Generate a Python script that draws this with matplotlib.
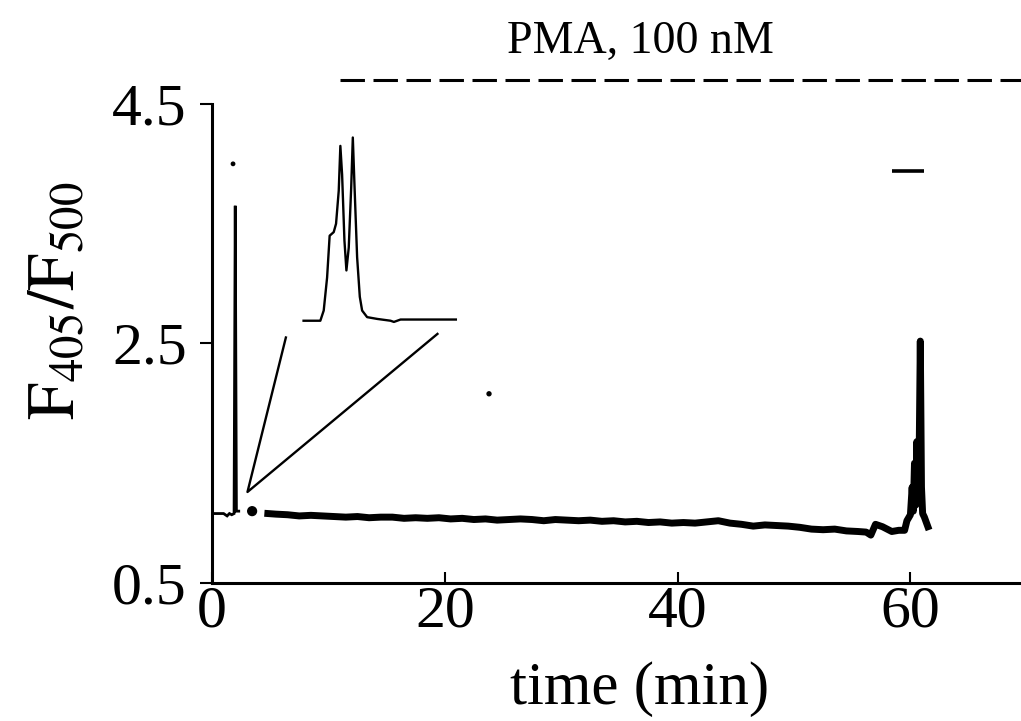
import numpy as np
import matplotlib.pyplot as plt

plt.rcParams['font.family'] = ['Liberation Serif', 'DejaVu Serif']
plt.rcParams['mathtext.fontset'] = 'stix'

# early thin trace (min, ratio)
t_early = [0.0, 0.5, 1.0, 1.3, 1.5, 1.7, 1.9, 2.0, 2.1, 2.3]
r_early = [1.08, 1.08, 1.08, 1.06, 1.08, 1.07, 1.08, 3.65, 1.10, 1.10]

# main recording (thick trace)
t_main = [4.8, 5.5, 6.5, 7.5, 8.5, 9.5, 10.5, 11.5, 12.5, 13.5, 14.5, 15.5,
          16.5, 17.5, 18.5, 19.5, 20.5, 21.5, 22.5, 23.5, 24.5, 25.5, 26.5,
          27.5, 28.5, 29.5, 30.5, 31.5, 32.5, 33.5, 34.5, 35.5, 36.5, 37.5,
          38.5, 39.5, 40.5, 41.5, 42.5, 43.5, 44.5, 45.5, 46.5, 47.5, 48.5,
          49.5, 50.5, 51.5, 52.5, 53.5, 54.5, 55.5, 56.2, 56.6, 57.0, 57.6,
          58.4, 59.0, 59.5, 59.7, 60.0, 60.15, 60.25, 60.35, 60.45, 60.55,
          60.65, 60.75, 60.85, 60.95, 61.05, 61.2, 61.5]
r_main = [1.08, 1.075, 1.07, 1.06, 1.065, 1.06, 1.055, 1.05, 1.055, 1.045,
          1.05, 1.05, 1.04, 1.045, 1.04, 1.045, 1.035, 1.04, 1.03, 1.035,
          1.025, 1.03, 1.035, 1.03, 1.02, 1.03, 1.025, 1.02, 1.025, 1.015,
          1.02, 1.01, 1.015, 1.005, 1.01, 1.0, 1.005, 1.0, 1.01, 1.02, 1.0,
          0.99, 0.975, 0.985, 0.98, 0.975, 0.965, 0.95, 0.945, 0.95, 0.935,
          0.93, 0.925, 0.90, 0.99, 0.97, 0.93, 0.94, 0.94, 1.02, 1.07, 1.30,
          1.10, 1.50, 1.15, 1.68, 1.20, 1.55, 2.52, 1.30, 1.08, 1.05, 0.97]

# magnified inset of the first transient
t_inset = [7.87, 9.31, 9.60, 9.89, 10.11, 10.46, 10.66, 10.89, 11.03, 11.18,
           11.38, 11.55, 11.75, 11.96, 12.10, 12.24, 12.47, 12.70, 12.90,
           13.33, 14.2, 15.34, 15.63, 16.2, 18.2, 20.95]
r_inset = [2.69, 2.69, 2.775, 3.05, 3.40, 3.43, 3.50, 3.775, 4.15, 3.91,
           3.36, 3.11, 3.30, 3.80, 4.22, 3.83, 3.22, 2.89, 2.775, 2.72, 2.705,
           2.69, 2.68, 2.70, 2.70, 2.70]

# zoom guide lines: apex and two ends
zoom_t = [6.35, 3.05, 19.37]
zoom_r = [2.55, 1.26, 2.58]

# stray dots
dot_t = [3.45, 1.81, 23.8]
dot_r = [1.10, 4.00, 2.08]

fig = plt.figure(figsize=(10.21, 7.21), dpi=100)
ax = fig.add_axes([0.2076, 0.1914, 0.7924, 0.6644])

ax.plot(t_early, r_early, color='black', lw=2.0, solid_joinstyle='miter')
ax.plot(t_main, r_main, color='black', lw=5.0, solid_joinstyle='round')
ax.plot(t_inset, r_inset, color='black', lw=1.7)
ax.plot(zoom_t, zoom_r, color='black', lw=1.7)
ax.scatter(dot_t, dot_r, s=[40, 6, 8], color='black', zorder=3)

# short bar near 60 min
ax.plot([58.4, 61.2], [3.94, 3.94], color='black', lw=2.6, solid_capstyle='butt')

# PMA application bar
ax.plot([11.0, 69.5], [4.70, 4.70], color='black', lw=2.2, dashes=(8, 2.8),
        clip_on=False)
ax.text(36.8, 5.02, 'PMA, 100 nM', ha='center', va='center', fontsize=33,
        clip_on=False)

ax.set_xlim(0, 69.5)
ax.set_ylim(0.5, 4.5)
ax.set_xticks([0, 20, 40, 60])
ax.set_yticks([0.5, 2.5, 4.5])
ax.set_yticklabels(['0.5', '2.5', '4.5'])
ax.tick_params(axis='x', direction='in', length=8, width=1.5, labelsize=43, pad=2)
ax.tick_params(axis='y', direction='out', length=9, width=1.5, labelsize=43, pad=9)

for side in ['top', 'right']:
    ax.spines[side].set_visible(False)
for side in ['left', 'bottom']:
    ax.spines[side].set_linewidth(2.2)

ax.set_xlabel('time (min)', fontsize=44)
ax.xaxis.set_label_coords(0.529, -0.163)
ax.set_ylabel(r'$\mathrm{F_{405}/F_{500}}$', fontsize=48)
ax.yaxis.set_label_coords(-0.152, 0.59)

fig.savefig('out.png', dpi=100)
